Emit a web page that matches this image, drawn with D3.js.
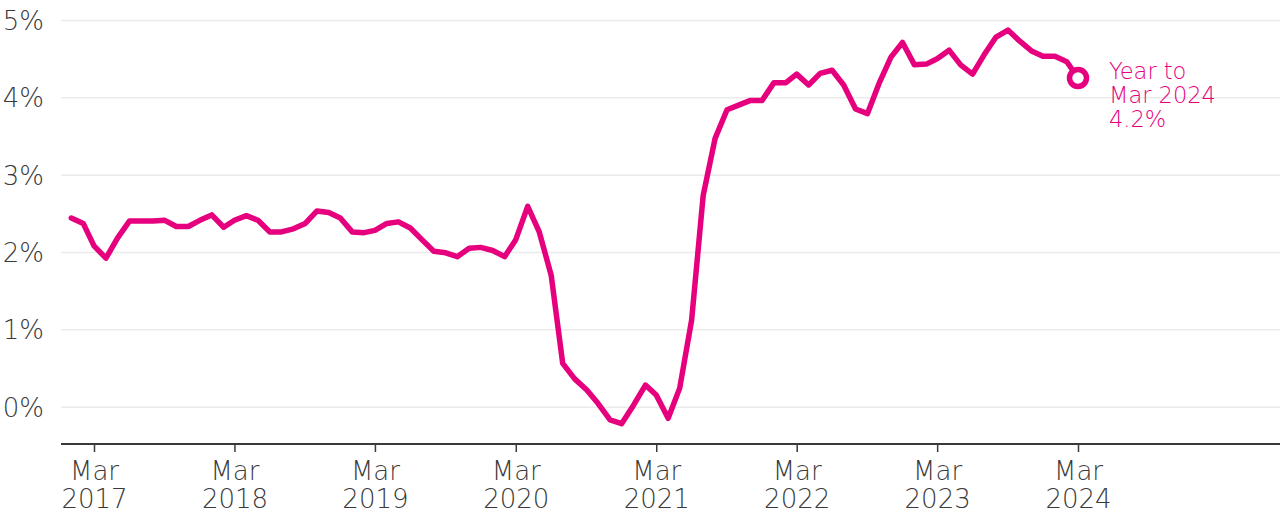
<!DOCTYPE html>
<html>
<head>
<meta charset="utf-8">
<script src="https://cdn.jsdelivr.net/npm/d3@7"></script>
<style>
  html, body { margin: 0; padding: 0; background: #fff; }
  svg { display: block; font-family: "DejaVu Sans", sans-serif; font-weight: 200; }
</style>
</head>
<body>
<svg id="chart"></svg>
<script>
// monthly, Jan 2017 .. Mar 2024 (year-to rate, %)
const firstMonth = new Date(Date.UTC(2017, 0, 1));
const lastMonth = new Date(Date.UTC(2024, 2, 1));
const rates = [
  2.44, 2.37, 2.08, 1.92, 2.18, 2.40, 2.40, 2.40, 2.41, 2.33, 2.33, 2.41,
  2.48, 2.32, 2.41, 2.47, 2.41, 2.26, 2.26, 2.30, 2.37, 2.53, 2.51, 2.44,
  2.26, 2.25, 2.28, 2.37, 2.39, 2.31, 2.16, 2.01, 1.99, 1.94, 2.05, 2.06,
  2.02, 1.94, 2.16, 2.59, 2.26, 1.70, 0.56, 0.36, 0.22, 0.04, -0.17, -0.22,
  0.02, 0.28, 0.15, -0.15, 0.24, 1.12, 2.73, 3.47, 3.84, 3.90, 3.96, 3.96,
  4.19, 4.19, 4.30, 4.16, 4.31, 4.35, 4.16, 3.85, 3.79, 4.18, 4.52, 4.71,
  4.42, 4.43, 4.50, 4.61, 4.42, 4.30, 4.55, 4.78, 4.87, 4.73, 4.60, 4.53,
  4.53, 4.46, 4.25
];
const yTicks = [0, 1, 2, 3, 4, 5];
const xTickYears = [2017, 2018, 2019, 2020, 2021, 2022, 2023, 2024];
const noteLines = ["Year to", "Mar 2024", "4.2%"];

const months = d3.utcMonths(firstMonth, d3.utcMonth.offset(lastMonth, 1));
const data = months.map((d, i) => ({ date: d, value: rates[i] }));

const width = 1280, height = 516;
const left = 61;
const pink = "#e6007e";
const grey = "#3a3a3a";

const svg = d3.select("#chart").attr("width", width).attr("height", height);

const x = d3.scaleUtc()
  .domain([new Date(Date.UTC(2017, 2, 1)), new Date(Date.UTC(2024, 2, 1))])
  .range([94, 1078]);
const y = d3.scaleLinear().domain([0, 5]).range([406.7, 20]);

// y grid + labels
const yAxis = svg.append("g")
  .attr("transform", `translate(${left},0)`)
  .call(d3.axisLeft(y).tickValues(yTicks).tickSize(-(width - left)).tickPadding(17)
    .tickFormat(d => d + "%"))
  .attr("font-family", null);
yAxis.select(".domain").remove();
yAxis.selectAll(".tick line").attr("stroke", "#ebebeb").attr("stroke-width", 1.5);
yAxis.selectAll(".tick text").attr("fill", grey).attr("font-size", 26).attr("dy", "0.36em");

// x axis
const axisY = 444;
const xAxis = svg.append("g")
  .attr("transform", `translate(0,${axisY})`)
  .call(d3.axisBottom(x)
    .tickValues(xTickYears.map(yr => new Date(Date.UTC(yr, 2, 1))))
    .tickSize(8).tickFormat(() => ""))
  .attr("font-family", null);
xAxis.select(".domain").remove();
xAxis.selectAll(".tick line").attr("stroke", grey).attr("stroke-width", 1.5);
xAxis.selectAll(".tick").each(function (d) {
  const t = d3.select(this).select("text")
    .attr("fill", grey).attr("font-size", 26).attr("y", 0).attr("dy", null);
  t.append("tspan").attr("x", 0).attr("y", 36).text(d3.utcFormat("%b")(d));
  t.append("tspan").attr("x", 0).attr("y", 64).text(d3.utcFormat("%Y")(d));
});
svg.append("line")
  .attr("x1", left).attr("x2", width)
  .attr("y1", axisY).attr("y2", axisY)
  .attr("stroke", grey).attr("stroke-width", 2);

// line
svg.append("path")
  .datum(data)
  .attr("fill", "none")
  .attr("stroke", pink)
  .attr("stroke-width", 5.5)
  .attr("stroke-linejoin", "round")
  .attr("stroke-linecap", "round")
  .attr("d", d3.line().x(d => x(d.date)).y(d => y(d.value)));

const last = data[data.length - 1];
svg.append("circle")
  .attr("cx", x(last.date)).attr("cy", y(last.value))
  .attr("r", 8.5)
  .attr("fill", "#fff")
  .attr("stroke", pink)
  .attr("stroke-width", 5.5);

// annotation, one text block
const note = svg.append("text")
  .attr("fill", pink)
  .attr("font-size", 22.5);
note.selectAll("tspan")
  .data(noteLines)
  .join("tspan")
  .attr("x", x(last.date) + 31)
  .attr("y", (d, i) => 79 + i * 24)
  .text(d => d);
</script>
</body>
</html>
